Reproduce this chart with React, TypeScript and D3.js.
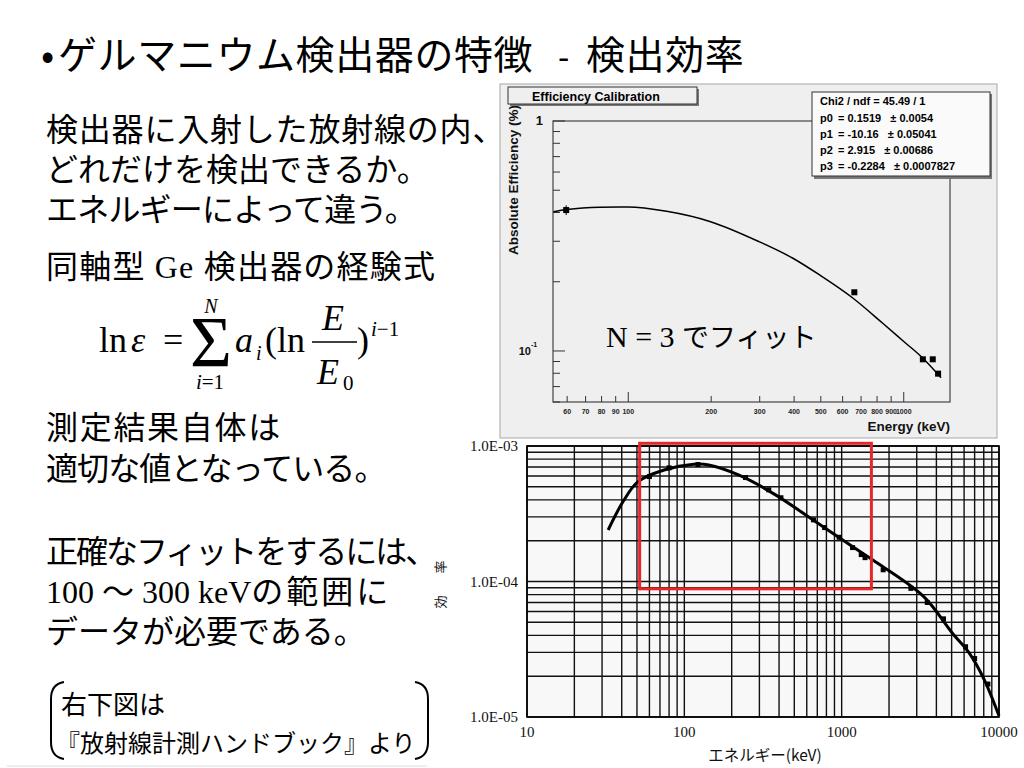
import React from "react";
import * as d3 from "d3";

// ---- top chart (ROOT calibration) ----
const calibEnergy = [59.5, 661.7, 1173.2, 1274.5, 1332.5];
const calibEff = [0.41, 0.18, 0.092, 0.092, 0.0797];
const calibErr = [0.02, 0.004, 0.002, 0.002, 0.002];

const fitEnergy = [53.5, 59.8, 78.9, 100, 137.8, 199, 298, 396, 495, 653, 839, 1000, 1159, 1366];
const fitEff = [0.403, 0.412, 0.422, 0.423, 0.405, 0.365, 0.299, 0.253, 0.214, 0.17, 0.132, 0.11, 0.0944, 0.0765];

const topXTickLabels = ["60", "70", "80", "90", "100", "200", "300", "400", "500", "600", "700", "800", "900", "1000"];

const statsNames = ["p0", "p1", "p2", "p3"];
const statsValues = ["= 0.1519", "= -10.16", "= 2.915", "= -0.2284"];
const statsErrors = ["± 0.0054", "± 0.05041", "± 0.00686", "± 0.0007827"];

// ---- bottom chart (handbook) ----
const bookEnergy = [32.8, 40.8, 50.8, 74.3, 114.8, 143, 221, 380, 656, 1132, 1570, 3300, 5040, 6457, 8050, 10000];
const bookEff = [2.4e-4, 3.89e-4, 5.46e-4, 6.65e-4, 7.33e-4, 7.24e-4, 6.11e-4, 4.36e-4, 2.85e-4, 1.86e-4, 1.445e-4, 7.8e-5, 4.17e-5, 2.97e-5, 1.89e-5, 1.02e-5];
const bookPtEnergy = [60, 80, 122, 245, 344, 411, 662, 779, 964, 1173, 1332, 1408, 1836, 2754, 3500, 4439, 6130, 7000, 8500];
const bookPtEff = [5.95e-4, 6.9e-4, 7.3e-4, 5.85e-4, 4.75e-4, 4.15e-4, 2.85e-4, 2.5e-4, 2.12e-4, 1.78e-4, 1.58e-4, 1.5e-4, 1.22e-4, 8.9e-5, 7.0e-5, 5.3e-5, 3.3e-5, 2.7e-5, 1.75e-5];
const bookXTicks = [10, 100, 1000, 10000];
const bookXLabels = ["10", "100", "1000", "10000"];
const bookYTicks = [1e-3, 1e-4, 1e-5];
const bookYLabels = ["1.0E-03", "1.0E-04", "1.0E-05"];
const focusRange = { e0: 52, e1: 1545, eff0: 8.83e-5, eff1: 1.047e-3 };

const JP = "'Noto Sans CJK JP', sans-serif";
const SERIF = "'Liberation Serif', 'Times New Roman', serif";
const SANS = "'Liberation Sans', Arial, sans-serif";

const App = () => {
  const tx = d3.scaleLog().domain([53.3, 1472]).range([553, 950]);
  const ty = d3.scaleLog().domain([0.06, 1]).range([402, 121]);
  const bx = d3.scaleLog().domain([10, 10000]).range([527, 999]);
  const by = d3.scaleLog().domain([1e-5, 1e-3]).range([717, 446]);

  const fitLine = d3.line<number>()
    .x((_, i) => tx(fitEnergy[i]))
    .y((d) => ty(d))
    .curve(d3.curveMonotoneX)(fitEff);

  const bookLine = d3.line<number>()
    .x((_, i) => bx(bookEnergy[i]))
    .y((d) => by(d))
    .curve(d3.curveCatmullRom)(bookEff);

  const txTicks = tx.ticks();
  const tyTicks = ty.ticks();
  const bxGrid = bx.ticks();
  const byGrid = by.ticks();

  return (
    <svg width={1024} height={768} style={{ position: "absolute", left: 0, top: 0, background: "#fff" }}>
      {/* ---------- left text ---------- */}
      <g fontFamily={JP} fontSize={39}>
        <text x={41} y={69}>•</text>
        <text x={58} y={69} letterSpacing={0.6}>ゲルマニウム検出器の特徴</text>
        <text x={558} y={69} fontFamily={SANS} fontSize={34}>-</text>
        <text x={586} y={69} letterSpacing={0.6}>検出効率</text>
      </g>
      <g fontFamily={JP} fontSize={32}>
        <text x={46} y={141} letterSpacing={0.8}>検出器に入射した放射線の内、</text>
        <text x={46} y={181}>どれだけを検出できるか。</text>
        <text x={46} y={221} letterSpacing={-0.8}>エネルギーによって違う。</text>
        <text x={46} y={278} letterSpacing={1.2}>
          同軸型<tspan fontFamily={SERIF}> Ge </tspan>検出器の経験式
        </text>
        <text x={46} y={439} letterSpacing={1.7}>測定結果自体は</text>
        <text x={46} y={480} letterSpacing={-0.9}>適切な値となっている。</text>
        <text x={46} y={563} letterSpacing={-2}>正確なフィットをするには、</text>
        <text x={46} y={603} style={{ whiteSpace: "pre" }}>
          <tspan fontFamily={SERIF}>100 </tspan>～<tspan fontFamily={SERIF}> 300 keV</tspan>
          <tspan letterSpacing={3}>の範囲に</tspan>
        </text>
        <text x={46} y={643}>データが必要である。</text>
      </g>

      {/* formula */}
      <g fontFamily={SERIF}>
        <text x={99} y={352} fontSize={36}>ln</text>
        <text x={131} y={352} fontSize={36} fontStyle="italic">ε</text>
        <text x={163} y={352} fontSize={36}>=</text>
        <text x={190} y={366} fontSize={72}>Σ</text>
        <text x={211} y={313} fontSize={20} fontStyle="italic" textAnchor="middle">N</text>
        <text x={210} y={389} fontSize={21} textAnchor="middle">
          <tspan fontStyle="italic">i</tspan>=1
        </text>
        <text x={235} y={352} fontSize={36} fontStyle="italic">a</text>
        <text x={256} y={360} fontSize={20} fontStyle="italic">i</text>
        <text x={265} y={352} fontSize={36}>(ln</text>
        <text x={333} y={330} fontSize={36} fontStyle="italic" textAnchor="middle">E</text>
        <line x1={312} x2={357} y1={342} y2={342} stroke="#000" strokeWidth={1.5} />
        <text x={328} y={384} fontSize={36} fontStyle="italic" textAnchor="middle">E</text>
        <text x={343} y={390} fontSize={21}>0</text>
        <text x={357} y={352} fontSize={36}>)</text>
        <text x={371} y={336} fontSize={21}>
          <tspan fontStyle="italic">i</tspan>−1
        </text>
      </g>

      {/* citation */}
      <g fontFamily={JP}>
        <text x={61} y={714} fontSize={26}>右下図は</text>
        <text x={56} y={752} fontSize={24}>『放射線計測ハンドブック』より</text>
      </g>
      <path d="M64,682 Q51,684 51,699 L51,742 Q51,757 64,759" fill="none" stroke="#000" strokeWidth={2} />
      <path d="M415,682 Q428,684 428,699 L428,742 Q428,757 415,759" fill="none" stroke="#000" strokeWidth={2} />
      <line x1={7} x2={427} y1={766} y2={766} stroke="#ddd" strokeWidth={1} />

      {/* ---------- top chart ---------- */}
      <rect x={500} y={84} width={497} height={354} fill="#efefef" stroke="#a8a8a8" strokeWidth={1} />
      <rect x={553} y={121} width={397} height={281} fill="#efefef" stroke="#444" strokeWidth={1.2} />
      {tyTicks.map((t) => {
        const major = Math.abs(Math.log10(t) - Math.round(Math.log10(t))) < 1e-6;
        return (
          <line key={"ty" + t} x1={553} x2={553 + (major ? 12 : 7)} y1={ty(t)} y2={ty(t)} stroke="#333" strokeWidth={1} />
        );
      })}
      {txTicks.map((t, i) => {
        const major = Math.abs(Math.log10(t) - Math.round(Math.log10(t))) < 1e-6;
        return (
          <g key={"tx" + t}>
            <line x1={tx(t)} x2={tx(t)} y1={402} y2={402 - (major ? 10 : 6)} stroke="#333" strokeWidth={1} />
            <text x={tx(t)} y={414} fontFamily={SANS} fontWeight="bold" fontSize={7} textAnchor="middle" fill="#222">
              {topXTickLabels[i]}
            </text>
          </g>
        );
      })}
      <g fontFamily={SANS} fontWeight="bold" fill="#111">
        <text x={543} y={125} fontSize={13} textAnchor="end">1</text>
        <text x={531} y={355} fontSize={11} textAnchor="end">10</text>
        <text x={531} y={347} fontSize={7}>-1</text>
        <text x={950} y={431} fontSize={13.5} textAnchor="end">Energy (keV)</text>
        <text transform="translate(518,180) rotate(-90)" fontSize={13.5} textAnchor="middle">
          Absolute Efficiency (%)
        </text>
      </g>
      <path d={fitLine || ""} fill="none" stroke="#000" strokeWidth={1.5} />
      {calibEnergy.map((e, i) => (
        <g key={"cp" + i}>
          <line x1={tx(e)} x2={tx(e)} y1={ty(calibEff[i] + calibErr[i])} y2={ty(calibEff[i] - calibErr[i])} stroke="#000" strokeWidth={1} />
          <rect x={tx(e) - 3} y={ty(calibEff[i]) - 3} width={6} height={6} fill="#000" />
        </g>
      ))}
      <text x={606} y={347}>
        <tspan fontFamily={SERIF} fontSize={30}>N = 3 </tspan>
        <tspan fontFamily={JP} fontSize={27}>でフィット</tspan>
      </text>
      {/* title box */}
      <rect x={510} y={89} width={189} height={17} fill="#777" />
      <rect x={508} y={87} width={189} height={17} fill="#efefef" stroke="#333" strokeWidth={1} />
      <text x={532} y={100.5} fontFamily={SANS} fontWeight="bold" fontSize={12.5}>Efficiency Calibration</text>
      {/* stats box */}
      <rect x={814} y={94} width={178} height={85} fill="#777" />
      <rect x={812} y={92} width={178} height={84} fill="#fafafa" stroke="#333" strokeWidth={1} />
      <g fontFamily={SANS} fontWeight="bold" fontSize={11} fill="#000">
        <text x={820} y={105} style={{ whiteSpace: "pre" }}>Chi2 / ndf = 45.49 / 1</text>
        {statsNames.map((n, i) => (
          <g key={n}>
            <text x={820} y={121.5 + i * 16.3}>{n}</text>
            <text x={838} y={121.5 + i * 16.3} style={{ whiteSpace: "pre" }}>
              {statsValues[i] + "   " + statsErrors[i]}
            </text>
          </g>
        ))}
      </g>

      {/* ---------- bottom chart ---------- */}
      <rect x={527} y={446} width={472} height={271} fill="#f8f8f8" />
      {byGrid.map((t) => (
        <line key={"by" + t} x1={527} x2={999} y1={by(t)} y2={by(t)} stroke="#111" strokeWidth={1.4} />
      ))}
      {bxGrid.map((t) => (
        <line key={"bx" + t} x1={bx(t)} x2={bx(t)} y1={446} y2={717} stroke="#111" strokeWidth={1.4} />
      ))}
      <rect x={527} y={446} width={472} height={271} fill="none" stroke="#000" strokeWidth={1.6} />
      <path d={bookLine || ""} fill="none" stroke="#000" strokeWidth={3} />
      {bookPtEnergy.map((e, i) => (
        <rect key={"bp" + i} x={bx(e) - 2.5} y={by(bookPtEff[i]) - 2.5} width={5} height={5} fill="#000" />
      ))}
      <rect
        x={bx(focusRange.e0)}
        y={by(focusRange.eff1)}
        width={bx(focusRange.e1) - bx(focusRange.e0)}
        height={by(focusRange.eff0) - by(focusRange.eff1)}
        fill="none"
        stroke="#e8262a"
        strokeWidth={3}
      />
      <g fontFamily={SERIF} fontSize={15} fill="#111">
        {bookYTicks.map((t, i) => (
          <text key={"byl" + t} x={518} y={by(t) + 5} textAnchor="end">{bookYLabels[i]}</text>
        ))}
        {bookXTicks.map((t, i) => (
          <text key={"bxl" + t} x={bx(t)} y={737} textAnchor="middle">{bookXLabels[i]}</text>
        ))}
      </g>
      <text x={765} y={761} fontFamily={JP} fontSize={15.5} textAnchor="middle" fill="#111">エネルギー(keV)</text>
      <g fontFamily={JP} fontSize={13} fill="#111" textAnchor="middle">
        <text transform="translate(445,602) rotate(-90)">効</text>
        <text transform="translate(445,567) rotate(-90)">率</text>
      </g>
    </svg>
  );
};

export default App;
